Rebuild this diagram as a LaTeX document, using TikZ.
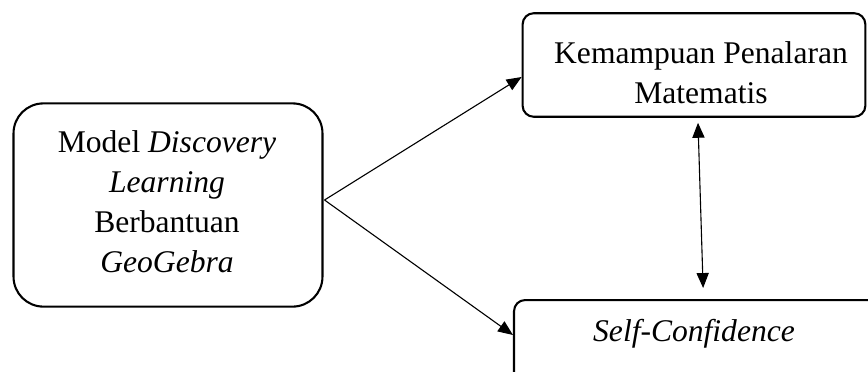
\documentclass[tikz,border=0pt]{standalone}
\usepackage{fontspec}
\setmainfont{Liberation Serif}
\usetikzlibrary{calc,arrows.meta,positioning}
\tikzset{
  box/.style={draw,line width=0.75pt,rounded corners=4pt,inner sep=0pt},
  txt/.style={align=center,font=\fontsize{11.4}{14.4}\selectfont,inner sep=0pt},
  ar/.style={-{Triangle[length=5.4pt,width=4.4pt]},line width=0.4pt},
  dar/.style={{Triangle[length=5.4pt,width=4.4pt]}-{Triangle[length=5.4pt,width=4.4pt]},line width=0.4pt}
}
\begin{document}
\begin{tikzpicture}[x=0.0127cm,y=-0.0127cm]
\useasboundingbox (0,0) rectangle (868,371);
\clip (0,0) rectangle (868,371);
% boxes
\node[box,rounded corners=10.8pt,minimum width=111.6pt,minimum height=73.4pt] (mdl) at (168,205) {};
\node[box,minimum width=123.8pt,minimum height=37.4pt] (kpm) at (694,65) {};
\node[box,anchor=north west,minimum width=133pt,minimum height=43pt] (sc) at (513,299) {};
% texts
\node[txt] (tmdl) at (167,202) {Model \textit{Discovery}\\\textit{Learning}\\Berbantuan\\\textit{GeoGebra}};
\node[txt] (tkpm) at (701,73) {Kemampuan Penalaran\\Matematis};
\node[txt] (tsc) at (694,334) {\textit{Self-Confidence}};
% arrows
\coordinate (src) at ($(mdl.east)+(1,-5)$);
\draw[ar] (src) -- ($(kpm.west)+(0,12)$);
\draw[ar] (src) -- ($(sc.north west)+(0,36)$);
\draw[dar] ($(kpm.south)+(4,5)$) -- ($(sc.north)+(5,-11)$);
\end{tikzpicture}
\end{document}
